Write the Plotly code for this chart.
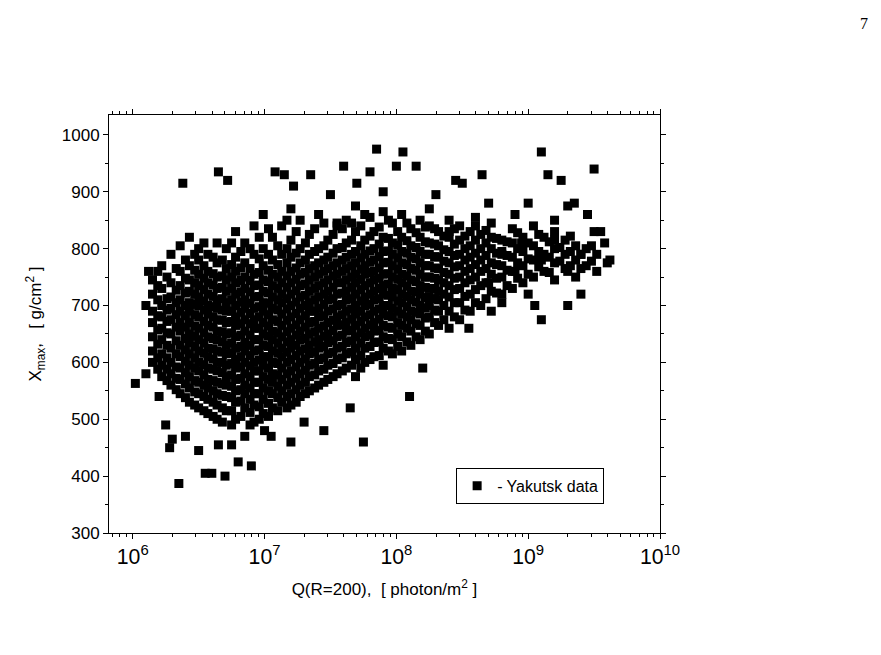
import plotly.graph_objects as go

# outliers: (log10 Q, Xmax)
out_lg = [6.02,6.1,6.1,6.12,6.2,6.25,6.3,6.28,6.35,6.38,6.4,6.5,6.55,6.6,6.65,6.7,6.72,6.65,6.75,6.8,6.85,6.9,7.0,7.05,7.08,7.15,7.2,7.22,7.3,7.35,7.45,7.5,7.55,7.6,7.65,7.7,7.75,7.8,7.85,7.9,8.0,8.05,8.1,8.15,8.2,8.25,8.3,8.4,8.45,8.5,8.55,8.6,8.65,8.7,8.8,8.9,8.95,9.0,9.05,9.1,9.15,9.2,9.25,9.3,9.35,9.4,9.45,9.5,9.55,9.58,9.6,9.62,9.3,9.1,9.5,9.0,9.2,8.8,8.7,8.9,9.1,9.3,9.4]
out_y = [563,580,700,760,540,490,465,450,387,915,470,445,405,405,935,400,920,455,455,425,470,418,480,470,935,930,460,910,495,930,480,895,845,945,520,915,460,935,975,900,945,970,540,945,590,870,895,830,920,915,660,855,930,880,790,860,810,880,700,675,930,850,920,875,880,790,860,830,830,810,775,780,700,970,940,720,815,705,740,760,780,760,720]

core = [
(6.15,[600,620,645,670,690,720,745]),
(6.22,[575,595,615,640,660,680,700,730,770]),
(6.29,[560,580,600,625,650,675,695,715,740,790]),
(6.36,[545,570,590,610,630,655,670,690,710,735,760,805]),
(6.43,[530,555,575,595,615,635,650,670,690,705,725,745,770,820]),
(6.5,[520,545,565,585,600,620,640,660,680,700,715,735,755,780,800]),
(6.57,[510,535,555,570,590,610,625,645,665,685,700,720,740,760,790]),
(6.64,[500,525,545,565,585,600,620,640,655,675,695,710,730,750,775,810]),
(6.71,[515,540,560,575,595,615,630,650,670,690,705,725,745,765,800]),
(6.78,[500,530,550,570,590,605,625,645,665,680,700,720,740,760,785,830]),
(6.85,[520,545,560,580,600,620,635,655,675,695,710,730,750,775,810]),
(6.92,[495,525,545,565,585,600,620,640,660,675,695,715,735,755,790,840]),
(6.99,[510,535,555,575,595,610,630,650,670,690,705,725,745,770,800,860]),
(7.06,[520,545,565,580,600,620,640,655,675,695,715,735,755,780,820]),
(7.13,[530,550,570,590,610,625,645,665,685,705,720,740,760,790,840]),
(7.2,[525,545,565,585,605,625,640,660,680,700,720,740,760,785,815,870]),
(7.27,[540,560,580,600,620,640,655,675,695,715,735,755,775,800,850]),
(7.34,[550,575,595,615,630,650,670,690,705,725,745,765,790,825]),
(7.41,[560,585,605,625,640,660,680,695,715,735,755,775,800,860]),
(7.48,[570,595,615,635,650,670,690,710,725,745,765,785,815]),
(7.55,[580,605,625,645,665,680,700,720,740,755,775,800,840]),
(7.62,[590,615,635,655,670,690,710,725,745,765,785,810,850]),
(7.69,[575,605,625,645,665,685,700,720,740,755,775,795,830,875]),
(7.76,[600,625,645,660,680,700,715,735,755,770,790,815,860]),
(7.83,[610,635,655,670,690,710,725,745,760,780,800,830]),
(7.9,[595,625,645,665,685,700,720,735,755,775,795,820,865]),
(7.97,[615,640,660,680,695,715,730,750,770,790,810,845]),
(8.04,[620,645,665,685,705,720,740,755,775,795,820,860]),
(8.11,[630,655,675,690,710,725,745,765,785,805,835]),
(8.18,[640,665,685,700,720,735,755,775,795,820,850]),
(8.25,[650,680,700,715,730,750,770,790,810,840]),
(8.32,[665,690,710,725,745,765,785,805,830]),
(8.4,[660,690,715,735,755,775,795,820,850]),
(8.48,[675,705,730,750,770,790,815,840]),
(8.56,[690,720,745,765,785,805,830]),
(8.64,[700,735,760,780,800,825]),
(8.72,[690,725,755,775,800,820,845]),
(8.8,[720,750,770,795,815]),
(8.88,[730,760,785,810,835]),
(8.96,[740,770,795,820]),
(9.04,[750,780,805,840]),
(9.12,[760,790,820]),
(9.2,[745,775,800,830]),
(9.28,[765,790,815]),
(9.36,[750,780,805]),
(9.44,[770,800]),
(9.52,[760,790]),
]

core2 = [
(6.19,[588,608,632,657,682,710,735,760]),
(6.26,[568,588,608,630,652,672,692,712,750]),
(6.33,[552,572,592,615,638,662,684,705,727,765]),
(6.4,[538,562,582,602,622,642,662,682,700,722,748,780]),
(6.47,[525,548,568,590,608,628,646,664,684,702,720,740,762,790]),
(6.54,[515,540,560,578,596,616,634,652,672,692,708,728,748,770,810]),
(6.61,[505,530,550,568,588,606,624,642,662,680,698,716,736,756,785]),
(6.68,[495,520,542,562,582,600,618,636,654,674,692,712,732,752,780]),
(6.75,[490,515,538,558,578,598,616,634,652,672,690,710,730,750,772,810]),
(6.82,[505,532,552,572,592,610,628,648,668,688,706,724,744,766,795]),
(6.89,[490,512,535,555,575,594,612,630,648,668,686,704,724,744,765,800]),
(6.96,[500,522,545,565,585,604,622,640,660,680,698,716,736,758,782,820]),
(7.03,[505,528,550,570,590,610,628,646,664,684,704,722,742,762,790,835]),
(7.1,[515,538,558,578,598,616,634,652,672,692,710,730,750,772,805]),
(7.17,[520,540,560,580,600,618,636,654,674,694,712,732,752,775,800,850]),
(7.24,[530,552,572,592,612,630,648,666,686,706,726,746,766,792,830]),
(7.31,[545,565,586,606,624,642,662,682,700,718,738,758,780,810]),
(7.38,[555,578,598,618,636,654,672,690,710,730,750,770,795,835]),
(7.45,[565,588,608,628,646,664,682,702,720,740,760,780,805,845]),
(7.52,[575,598,618,638,656,674,694,712,732,752,770,792,825]),
(7.59,[585,608,628,648,666,684,702,722,740,760,780,802,835]),
(7.66,[595,618,638,656,676,694,712,732,750,770,790,815,845]),
(7.73,[590,612,634,652,672,690,708,728,746,764,784,805,840]),
(7.8,[605,628,648,666,684,702,720,740,758,776,796,822,855]),
(7.87,[612,636,656,676,694,712,730,748,766,786,808,838]),
(7.94,[620,642,662,682,700,718,738,756,776,796,818,850]),
(8.01,[628,650,670,690,708,728,746,764,784,806,830]),
(8.08,[636,660,680,698,716,734,752,772,792,814,845]),
(8.15,[645,668,688,706,724,742,762,782,802,828]),
(8.22,[655,678,696,714,732,750,770,790,812,838]),
(8.29,[670,692,712,730,748,766,786,808,835]),
(8.36,[675,700,720,740,758,778,798,822]),
(8.44,[680,705,728,748,768,788,808,835]),
(8.52,[692,716,740,760,780,800,822]),
(8.6,[705,728,750,772,792,815,840]),
(8.68,[712,740,765,788,810,832]),
(8.76,[722,748,772,792,818]),
(8.84,[735,762,788,812]),
(8.92,[748,775,800,828]),
(9.0,[755,782,810]),
(9.08,[768,795,825]),
(9.16,[758,785,812]),
(9.24,[778,802]),
(9.32,[770,795,822]),
(9.4,[765,790]),
(9.48,[778,805]),
]

xs = [10**v for v in out_lg]
ys = list(out_y)
for group in (core, core2):
    for lg, yl in group:
        for y in yl:
            xs.append(10**lg); ys.append(y)

font = "Liberation Sans, Arial, sans-serif"
fig = go.Figure(go.Scatter(x=xs, y=ys, mode="markers", name="- Yakutsk data",
    marker=dict(symbol="square", size=9, color="black", line=dict(width=0))))

axcommon = dict(showgrid=False, zeroline=False, showline=True, linecolor="black",
    linewidth=1, mirror="ticks", ticks="outside", ticklen=5, tickcolor="black",
    tickfont=dict(family=font, size=17, color="black"))
fig.update_layout(
    width=881, height=655, paper_bgcolor="white", plot_bgcolor="white",
    margin=dict(l=101, r=229, t=107, b=130),
    showlegend=True,
    legend=dict(x=0.63, y=0.07, xanchor="left", yanchor="bottom", bordercolor="black",
        borderwidth=1, bgcolor="white", font=dict(family=font, size=16, color="black")),
    xaxis=dict(type="log", range=[5.82, 10], dtick=1, exponentformat="power",
        minor=dict(ticks="outside", ticklen=3, tickcolor="black"),
        title=dict(text="Q(R=200),  [ photon/m<sup>2</sup> ]", font=dict(family=font, size=17, color="black")),
        **axcommon),
    yaxis=dict(range=[300, 1035], dtick=100,
        minor=dict(ticks="outside", ticklen=3, tickcolor="black", dtick=50),
        title=dict(text="X<sub>max</sub>,   [ g/cm<sup>2</sup> ]", font=dict(family=font, size=17, color="black")),
        **axcommon),
    annotations=[dict(text="7", x=1.37, y=1.22, xref="paper", yref="paper", showarrow=False,
        xanchor="center", yanchor="middle",
        font=dict(family="Liberation Serif, serif", size=16, color="black"))],
)
fig.write_html("out.html")
